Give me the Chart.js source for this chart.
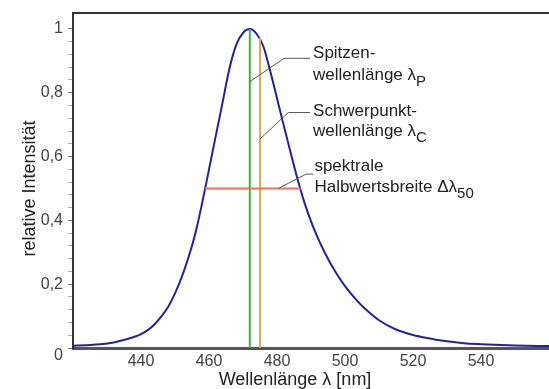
<!DOCTYPE html>
<html><head><meta charset="utf-8">
<script src="https://cdn.jsdelivr.net/npm/chart.js@4.4.0/dist/chart.umd.min.js"></script>
<style>html,body{margin:0;padding:0;background:#fff}#wrap{width:549px;height:389px}</style>
</head><body><div id="wrap"><canvas id="c" width="549" height="389"></canvas></div>
<script>
// ---- data ----
const wavelengths = [420,424,428,432,436,440,442,444,446,448,450,452,454,456,458,460,462,464,466,468,470,472,474,476,478,480,482,484,486,488,490,492,494,496,498,500,503,506,510,515,520,525,530,535,540,550,560];
const intensity   = [0.007,0.009,0.0115,0.0175,0.028,0.0435,0.056,0.0744,0.0988,0.129,0.171,0.223,0.285,0.36,0.455,0.56,0.665,0.77,0.875,0.95,0.988,1.0,0.985,0.945,0.868,0.783,0.697,0.613,0.531,0.458,0.397,0.345,0.3,0.26,0.225,0.194,0.155,0.122,0.087,0.058,0.041,0.03,0.021,0.015,0.012,0.008,0.006];

const peakLineX = [472, 472];       const peakLineY = [0, 1.0];
const centroidLineX = [475, 475];   const centroidLineY = [0, 0.972];
const halfWidthLineX = [458.8, 487.0]; const halfWidthLineY = [0.5, 0.5];

const leaderPeakX = [472, 482.1, 489.7];     const leaderPeakY = [0.835, 0.908, 0.908];
const leaderCentroidX = [475, 483.3, 489.7]; const leaderCentroidY = [0.655, 0.738, 0.738];
const leaderHalfX = [480.4, 488.5, 490.7];   const leaderHalfY = [0.5, 0.545, 0.545];

const annotationTexts = ["Spitzen-", "wellenlänge λ", "Schwerpunkt-", "wellenlänge λ", "spektrale", "Halbwertsbreite Δλ"];
const annotationSubs  = ["", "P", "", "C", "", "50"];
const annotationX = [490.6, 490.6, 490.6, 490.6, 491.0, 491.0];
const annotationY = [0.908, 0.84, 0.726, 0.665, 0.554, 0.489];

const xTickLabels = [440, 460, 480, 500, 520, 540];
const yTickLabels = [0, 0.2, 0.4, 0.6, 0.8, 1];
const xTitle = "Wellenlänge λ [nm]";
const yTitle = "relative Intensität";

// ---- chart ----
const FONT = '"Liberation Sans", Arial, sans-serif';
const pts = (xs, ys) => xs.map((x, i) => ({x, y: ys[i]}));
const isMajor = v => yTickLabels.some(t => Math.abs(t - v) < 1e-6);

const deco = {
  id: 'deco',
  afterDraw(chart) {
    const {ctx, chartArea: a, scales: {x, y}} = chart;
    ctx.save();
    ctx.strokeStyle = '#333'; ctx.lineWidth = 2;
    ctx.beginPath(); ctx.moveTo(a.left - 1, a.top); ctx.lineTo(chart.width, a.top); ctx.stroke();

    ctx.fillStyle = '#222'; ctx.textAlign = 'left'; ctx.textBaseline = 'alphabetic';
    annotationTexts.forEach((t, i) => {
      const px = x.getPixelForValue(annotationX[i]);
      const py = y.getPixelForValue(annotationY[i]);
      ctx.font = '17px ' + FONT;
      ctx.fillText(t, px, py);
      if (annotationSubs[i]) {
        const w = ctx.measureText(t).width;
        ctx.font = '15px ' + FONT;
        ctx.fillText(annotationSubs[i], px + w, py + 6);
      }
    });

    ctx.font = '18px ' + FONT; ctx.fillStyle = '#222';
    ctx.textAlign = 'center'; ctx.textBaseline = 'middle';
    ctx.fillText(xTitle, (a.left + a.right) / 2 - 16, chart.height - 9);
    ctx.translate(30, (a.top + a.bottom) / 2 + 8);
    ctx.rotate(-Math.PI / 2);
    ctx.fillText(yTitle, 0, 0);
    ctx.restore();
  }
};

const line = (data, color, width) => ({data, borderColor: color, borderWidth: width, pointRadius: 0, fill: false, tension: 0});

new Chart(document.getElementById('c'), {
  type: 'line',
  data: {datasets: [
    line(pts(leaderPeakX, leaderPeakY), '#555', 1),
    line(pts(leaderCentroidX, leaderCentroidY), '#555', 1),
    line(pts(leaderHalfX, leaderHalfY), '#555', 1),
    line(pts(halfWidthLineX, halfWidthLineY), '#f2714f', 2),
    line(pts(peakLineX, peakLineY), '#3cb43a', 2),
    line(pts(centroidLineX, centroidLineY), '#e0a952', 2),
    Object.assign(line(pts(wavelengths, intensity), '#22229e', 2), {cubicInterpolationMode: 'monotone'})
  ]},
  options: {
    responsive: false, animation: false,
    plugins: {legend: {display: false}, tooltip: {enabled: false}},
    layout: {padding: {top: 7, right: 0, left: 0, bottom: 0}},
    scales: {
      x: {
        type: 'linear', min: 420, max: 560,
        afterBuildTicks: s => { s.ticks = xTickLabels.map(v => ({value: v})); },
        afterFit: s => { s.height = 41; },
        grid: {display: false, drawTicks: false},
        border: {display: true, color: '#555', width: 3},
        ticks: {font: {family: FONT, size: 16}, color: '#444', padding: 4, maxRotation: 0, autoSkip: false, callback: v => String(v)}
      },
      y: {
        min: 0, max: 1.05,
        afterBuildTicks: s => {
          const t = [];
          for (let i = 0; i < yTickLabels.length; i++) {
            t.push({value: yTickLabels[i]});
            if (i < yTickLabels.length - 1) {
              const d = (yTickLabels[i + 1] - yTickLabels[i]) / 5;
              for (let k = 1; k < 5; k++) t.push({value: yTickLabels[i] + k * d});
            }
          }
          s.ticks = t;
        },
        afterFit: s => { s.width = 73; },
        grid: {display: true, drawOnChartArea: false, drawTicks: true, tickLength: 5,
               color: c => (c.tick && isMajor(c.tick.value)) ? '#777' : '#aaa', lineWidth: 1},
        border: {display: true, color: '#333', width: 2},
        ticks: {font: {family: FONT, size: 16, lineHeight: 1.0}, color: '#444', padding: 5, autoSkip: false,
                callback: v => {
                  if (!isMajor(v)) return '';
                  const s = String(Math.round(v * 10) / 10).replace('.', ',');
                  return v === 0 ? ['', s] : s;
                }}
      }
    }
  },
  plugins: [deco]
});
</script>
</body></html>
